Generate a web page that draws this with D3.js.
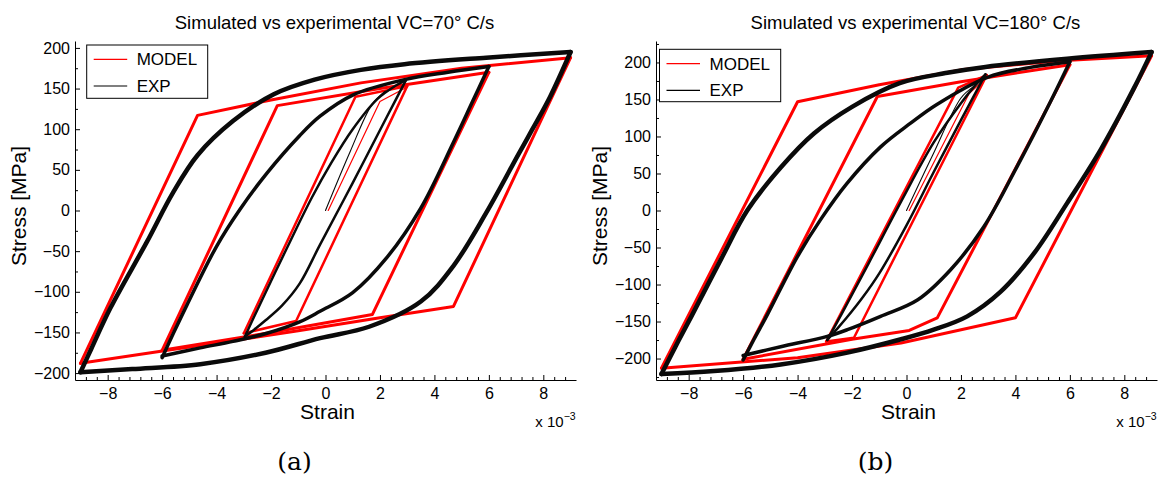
<!DOCTYPE html>
<html><head><meta charset="utf-8">
<script src="https://cdn.jsdelivr.net/npm/d3@7"></script>
<style>
body{margin:0;background:#fff}
svg text{font-family:"Liberation Sans",Arial,Helvetica,sans-serif;fill:#000}
</style>
</head><body>
<svg id="c" width="1162" height="477"></svg>
<script>
// ---------- data (strain in units of 1e-3, stress in MPa) ----------
const strainTicks = [-8,-6,-4,-2,0,2,4,6,8];
const stressTicks = [-200,-150,-100,-50,0,50,100,150,200];
const legendLabels = ["MODEL","EXP"];
const titles = ["Simulated vs experimental VC=70\u00B0 C/s","Simulated vs experimental VC=180\u00B0 C/s"];
const panelTags = ["(a)","(b)"];
const xLabel = "Strain";
const yLabel = "Stress [MPa]";

// Panel (a) VC=70 : model (piecewise)
const a_mod9_up = [[-9,-188],[-4.7,117],[-2,136],[1.3,157],[5,175],[9,188]];
const a_mod9_dn = [[9,188],[4.7,-118],[2,-132],[-1,-148],[-5,-168],[-9,-188]];
const a_mod6_up = [[-6,-172],[-1.77,129],[2,150],[6,170]];
const a_mod6_dn = [[6,170],[1.72,-128],[-2,-150],[-6,-172]];
const a_mod3_up = [[-3,-151],[1.1,140],[3,153]];
const a_mod3_dn = [[3,153],[-1.08,-136],[-3,-151]];
const a_mod_init = [[0.1,0],[2.0,134],[3,152]];
// Panel (a) experiment
const a_exp9_up = [[-9,-199],[-8.6,-170],[-7.9,-120],[-6.55,-38],[-5.6,22],[-4.7,68],[-3.4,110],[-1.9,143],[-0.4,161],[1.3,173],[2.9,180],[5.9,188],[9,195]];
const a_exp9_dn = [[9,195],[8.25,140],[7.6,100],[7.1,70],[5.9,-3],[4.7,-68],[3.5,-112],[1.6,-143],[-0.2,-157],[-2.2,-175],[-4.6,-189],[-7.1,-195],[-9,-199]];
const a_exp6_up = [[-6,-181],[-5.6,-152],[-5.1,-117],[-4,-44],[-3.15,1],[-2.15,46],[-0.95,92],[-0.2,116],[1,142],[2.9,161],[4.5,170],[6,177]];
const a_exp6_dn = [[6,177],[5.4,134],[4.7,84],[3.5,3],[2.25,-58],[1,-101],[-0.2,-124],[-0.95,-137],[-2.15,-151],[-3.4,-161],[-4.6,-169],[-6,-179]];
const a_exp3_up = [[-2.96,-155],[-2.5,-122],[-1.5,-52],[-0.5,16],[0.2,58],[1,100],[1.9,137],[2.5,152],[2.95,160]];
const a_exp3_dn = [[2.95,160],[2.25,115],[1,34],[-0.2,-42],[-0.95,-90],[-1.6,-117],[-2.2,-135],[-2.6,-146],[-2.96,-155]];
const a_exp_init = [[0,0],[0.9,72],[1.7,130],[2.2,147]];

// Panel (b) VC=180 : model
const b_mod9_up = [[-9,-213],[-4,147],[-1,170],[2,190],[5.5,202],[9,209]];
const b_mod9_dn = [[9,209],[4,-145],[-0.2,-179],[-4,-199],[-9,-213]];
const b_mod6_up = [[-6,-201],[-1.07,154],[2,174],[6,197]];
const b_mod6_dn = [[6,197],[1.13,-145],[0.1,-162],[-2,-174],[-6,-201]];
const b_mod3_up = [[-2.95,-177],[1.9,166],[2.95,183]];
const b_mod3_dn = [[2.95,183],[-1.93,-172],[-2.95,-177]];
const b_mod_init = [[0.1,0],[2.3,158],[2.95,180]];
// Panel (b) experiment
const b_exp9_up = [[-9,-221],[-8.5,-185],[-7.9,-143],[-6.8,-65],[-5.85,0],[-4.62,58],[-3.4,104],[-2,140],[-0.25,172],[1.5,186],[2.9,194],[5.9,205],[9,214]];
const b_exp9_dn = [[9,214],[8.35,165],[7.13,82],[5.9,10],[4.68,-58],[3.45,-110],[2.23,-143],[1,-161],[-0.2,-174],[-2.17,-192],[-4.62,-208],[-7.07,-217],[-9,-221]];
const b_exp6_up = [[-6,-202],[-5.6,-174],[-5.1,-140],[-4,-62],[-3.15,-12],[-2.2,36],[-0.95,86],[0.15,118],[1.1,143],[2.97,180],[4.5,193],[6,201]];
const b_exp6_dn = [[6,201],[5.3,148],[4.07,60],[2.84,-22],[1.62,-80],[0.4,-121],[-0.95,-143],[-2.17,-161],[-2.91,-170],[-4.62,-184],[-6,-196]];
const b_exp3_up = [[-2.91,-175],[-2.4,-141],[-1.4,-72],[-0.2,12],[1,92],[2,145],[2.5,168],[2.9,184]];
const b_exp3_dn = [[2.9,184],[2,122],[1,52],[0,-20],[-1,-85],[-1.6,-117],[-2.2,-145],[-2.6,-162],[-2.91,-175]];
const b_exp_init = [[0,0],[0.95,74],[2.0,152],[2.45,167]];

// ---------- layout ----------
const panels = [
  {id:"a", left:75, right:576, top:41, bottom:380, xDom:[-9.2,9.2], yDom:[-208.5,208.5],
   title:titles[0], tag:panelTags[0], legend:{x:86.7,y:45,w:121,h:53.3},
   model:[[a_mod9_up,3],[a_mod9_dn,3],[a_mod6_up,3],[a_mod6_dn,3],[a_mod3_up,2.5],[a_mod3_dn,2.5],[a_mod_init,1.2]],
   exp:[[a_exp9_up,4.5],[a_exp9_dn,4.5],[a_exp6_up,3.5],[a_exp6_dn,3.5],[a_exp3_up,2.5],[a_exp3_dn,2.5],[a_exp_init,1.1]]},
  {id:"b", left:656, right:1157, top:41, bottom:380, xDom:[-9.2,9.2], yDom:[-229,229],
   title:titles[1], tag:panelTags[1], legend:{x:659.5,y:49.3,w:121.2,h:52.4},
   model:[[b_mod9_up,3],[b_mod9_dn,3],[b_mod6_up,3],[b_mod6_dn,3],[b_mod3_up,2.5],[b_mod3_dn,2.5],[b_mod_init,1.2]],
   exp:[[b_exp9_up,4.5],[b_exp9_dn,4.5],[b_exp6_up,3.5],[b_exp6_dn,3.5],[b_exp3_up,2.5],[b_exp3_dn,2.5],[b_exp_init,1.1]]}
];

const svg = d3.select("#c");

function drawPanel(p){
  const x = d3.scaleLinear().domain(p.xDom).range([p.left,p.right]);
  const y = d3.scaleLinear().domain(p.yDom).range([p.bottom,p.top]);
  const g = svg.append("g");
  const clipId = "clip"+p.id;
  svg.append("clipPath").attr("id",clipId).append("rect")
    .attr("x",p.left).attr("y",p.top).attr("width",p.right-p.left).attr("height",p.bottom-p.top);
  const plot = g.append("g").attr("clip-path",`url(#${clipId})`);
  const lin = d3.line().x(d=>x(d[0])).y(d=>y(d[1]));
  const smooth = d3.line().x(d=>x(d[0])).y(d=>y(d[1])).curve(d3.curveCatmullRom.alpha(0.5));
  p.model.forEach(([data,w])=>{
    plot.append("path").attr("d",lin(data)).attr("fill","none").attr("stroke","#ff0000")
      .attr("stroke-width",w).attr("stroke-linejoin","round").attr("stroke-linecap","round");
  });
  p.exp.forEach(([data,w])=>{
    plot.append("path").attr("d",smooth(data)).attr("fill","none").attr("stroke","#0a0a0a")
      .attr("stroke-width",w).attr("stroke-linejoin","round").attr("stroke-linecap","round");
  });

  // minor ticks
  const xMinor = d3.range(-88,89,4).map(v=>v/10).filter(v=>Math.abs(v%2)>1e-6);
  const yMinor = d3.range(-225,226,50).filter(v=>v>p.yDom[0]&&v<p.yDom[1]);
  g.append("g").attr("transform",`translate(0,${p.bottom})`)
    .call(d3.axisBottom(x).tickValues(xMinor).tickSize(-3).tickSizeOuter(0).tickFormat(""))
    .call(s=>s.select(".domain").remove());
  g.append("g").attr("transform",`translate(${p.left},0)`)
    .call(d3.axisLeft(y).tickValues(yMinor).tickSize(-3).tickSizeOuter(0).tickFormat(""))
    .call(s=>s.select(".domain").remove());

  // major axes
  const xa = g.append("g").attr("transform",`translate(0,${p.bottom})`)
    .call(d3.axisBottom(x).tickValues(strainTicks).tickSize(-5).tickSizeOuter(0).tickPadding(7.6).tickFormat(d3.format("d")));
  const ya = g.append("g").attr("transform",`translate(${p.left},0)`)
    .call(d3.axisLeft(y).tickValues(stressTicks).tickSize(-5).tickSizeOuter(0).tickPadding(5).tickFormat(d3.format("d")));
  [xa,ya].forEach(a=>{
    a.attr("font-size",16).attr("font-family","Liberation Sans, Arial, sans-serif");
    a.selectAll("text").attr("fill","#000");
    a.selectAll("line").attr("stroke","#000");
    a.select(".domain").attr("stroke","#000");
  });

  const cx = (p.left+p.right)/2;
  g.append("text").attr("x",cx+9).attr("y",29).attr("text-anchor","middle")
    .attr("font-size",18.5).text(p.title);
  g.append("text").attr("x",cx+2).attr("y",419).attr("text-anchor","middle")
    .attr("font-size",21).text(xLabel);
  g.append("text").attr("transform",`translate(${p.left-49},206) rotate(-90)`)
    .attr("text-anchor","middle").attr("font-size",21).text(yLabel);
  const ex = g.append("text").attr("x",p.right-40.7).attr("y",427).attr("font-size",15);
  ex.append("tspan").text("x 10");
  ex.append("tspan").attr("dy",-7).attr("font-size",10.5).text("\u22123");
  g.append("text").attr("x",cx-31).attr("y",469.5).attr("text-anchor","middle")
    .attr("font-size",25).style("font-family","'DejaVu Serif',serif").text(p.tag);

  // legend
  const L = p.legend;
  const lg = g.append("g");
  lg.append("rect").attr("x",L.x).attr("y",L.y).attr("width",L.w).attr("height",L.h)
    .attr("fill","#fff").attr("stroke","#000").attr("stroke-width",1);
  const rows = [{c:"#ff0000",t:legendLabels[0]},{c:"#000",t:legendLabels[1]}];
  rows.forEach((r,i)=>{
    const ly = L.y + 14.3 + i*26.7;
    lg.append("line").attr("x1",L.x+7).attr("x2",L.x+40.5).attr("y1",ly).attr("y2",ly)
      .attr("stroke",r.c).attr("stroke-width",1.2);
    lg.append("text").attr("x",L.x+50).attr("y",ly+6).attr("font-size",17).text(r.t);
  });
}
panels.forEach(drawPanel);
</script>
</body></html>
